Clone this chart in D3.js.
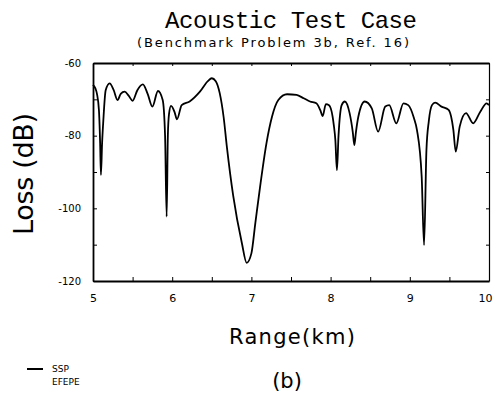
<!DOCTYPE html>
<html>
<head>
<meta charset="utf-8">
<script src="https://cdn.jsdelivr.net/npm/d3@7"></script>
<style>
  body { margin: 0; background: #fff; }
  svg { display: block; }
  .axis path.domain { stroke: #000; stroke-width: 1.8; }
  .axis line { stroke: #000; stroke-width: 1; }
  .axis text { font-family: 'DejaVu Sans', sans-serif; font-size: 11px; font-weight: bold; fill: #000; }
</style>
</head>
<body>
<div id="chart"></div>
<script>
// range (km) and loss (dB)
const rangeKm = [5.00, 5.03, 5.05, 5.075, 5.09, 5.10, 5.115, 5.13, 5.16, 5.21, 5.26, 5.31, 5.35, 5.40, 5.45, 5.50,
  5.56, 5.63, 5.69, 5.75, 5.82, 5.88, 5.91, 5.93, 5.945, 5.96, 5.985, 6.03, 6.06, 6.12, 6.22, 6.35, 6.45, 6.50,
  6.55, 6.60, 6.65, 6.69, 6.77, 6.88, 6.94, 7.00, 7.05, 7.11, 7.19, 7.26, 7.34, 7.45, 7.57, 7.66, 7.74, 7.82,
  7.87, 7.90, 7.94, 7.98, 8.04, 8.06, 8.08, 8.10, 8.14, 8.18, 8.24, 8.28, 8.30, 8.32, 8.35, 8.43, 8.52, 8.60,
  8.69, 8.74, 8.83, 8.92, 8.98, 9.05, 9.09, 9.15, 9.18, 9.21, 9.24, 9.28, 9.32, 9.40, 9.49, 9.55, 9.58, 9.63,
  9.71, 9.80, 9.89, 9.97, 10.0];
const lossDb = [-66.0, -67.0, -68.5, -73, -82, -90.8, -82, -76, -67.5, -65.6, -67.4, -70.2, -68.5, -67.9, -69, -70.4,
  -67.5, -65.9, -68.5, -72, -67.7, -70.2, -80, -102.3, -80, -74, -71.8, -73.5, -75.5, -71.6, -70.6, -67.9, -65, -64.2,
  -65, -68.3, -75, -83, -96.5, -109.6, -115, -112.4, -104, -94, -82.1, -74.8, -70.2, -68.6, -68.8, -69.7, -70.6, -71.1,
  -73, -74.6, -71.3, -71.6, -77, -81.2, -89.5, -80, -71.6, -70.6, -73.8, -79, -82.6, -79, -74.8, -70.6, -72.5, -78.9,
  -72.0, -71.6, -76.6, -71.1, -71.6, -75, -78.4, -91.3, -110.1, -84, -76, -71.6, -70.9, -72, -72.9, -78.4, -84.4, -77.5,
  -73.8, -76.6, -73.4, -71.1, -71.6];

const xTicks = [5, 6, 7, 8, 9, 10];
const yTicks = [-120, -100, -80, -60];
const legendLabels = ['SSP', 'EFEPE'];

const width = 494, height = 396;
const margin = { left: 93, right: 5, top: 63, bottom: 115 };

const svg = d3.select('#chart').append('svg')
  .attr('width', width)
  .attr('height', height);

const x = d3.scaleLinear().domain([5, 10]).range([margin.left, width - margin.right]);
const y = d3.scaleLinear().domain([-120, -60]).range([height - margin.bottom, margin.top]);

const minorX = d3.range(5, 10.01, 0.5);
const minorY = d3.range(-120, -59, 10);

// frame: all four sides with small inward ticks
svg.append('g').attr('class', 'axis')
  .attr('transform', 'translate(0,' + y(-120) + ')')
  .call(d3.axisBottom(x).tickValues(minorX).tickSizeInner(-4).tickSizeOuter(0).tickFormat(''));
svg.append('g').attr('class', 'axis')
  .attr('transform', 'translate(0,' + y(-120) + ')')
  .call(d3.axisBottom(x).tickValues(xTicks).tickSize(0).tickPadding(13).tickFormat(d3.format('d')))
  .call(g => g.select('.domain').remove())
  .call(g => g.selectAll('.tick text').style('font-weight', 'normal').style('font-size', '11px')
    .attr('dx', d => d === 10 ? -4 : 0));
svg.append('g').attr('class', 'axis')
  .attr('transform', 'translate(0,' + y(-60) + ')')
  .call(d3.axisTop(x).tickValues(minorX).tickSizeInner(-3).tickSizeOuter(0).tickFormat(''));
svg.append('g').attr('class', 'axis')
  .attr('transform', 'translate(' + x(5) + ',0)')
  .call(d3.axisLeft(y).tickValues(minorY).tickSizeInner(-4).tickSizeOuter(0).tickFormat(''));
svg.append('g').attr('class', 'axis')
  .attr('transform', 'translate(' + x(5) + ',0)')
  .call(d3.axisLeft(y).tickValues(yTicks).tickSize(0).tickPadding(12).tickFormat(d => '-' + Math.abs(d)))
  .call(g => g.select('.domain').remove())
  .call(g => g.selectAll('.tick text').style('font-weight', 'normal').style('font-size', '10px'));
svg.append('g').attr('class', 'axis')
  .attr('transform', 'translate(' + x(10) + ',0)')
  .call(d3.axisRight(y).tickValues(minorY).tickSizeInner(-3).tickSizeOuter(0).tickFormat(''))
  .call(g => g.select('.domain').style('stroke-width', 1.2));

// the curve
const line = d3.line()
  .x(d => x(d[0]))
  .y(d => y(d[1]))
  .curve(d3.curveMonotoneX);

svg.append('path')
  .datum(d3.zip(rangeKm, lossDb))
  .attr('d', line)
  .attr('fill', 'none')
  .attr('stroke', '#000')
  .attr('stroke-width', 1.8)
  .attr('stroke-linejoin', 'round');

// titles
svg.append('text')
  .attr('x', 291).attr('y', 28)
  .attr('text-anchor', 'middle')
  .style('font-family', "'Liberation Mono', 'DejaVu Sans Mono', monospace")
  .style('font-size', '24px')
  .attr('textLength', 252)
  .text('Acoustic Test Case');

svg.append('text')
  .attr('x', 273).attr('y', 47)
  .attr('text-anchor', 'middle')
  .style('font-family', "'DejaVu Sans', sans-serif")
  .style('font-size', '13px')
  .attr('textLength', 272)
  .text('(Benchmark Problem 3b, Ref. 16)');

svg.append('text')
  .attr('transform', 'translate(33,174) rotate(-90)')
  .attr('text-anchor', 'middle')
  .style('font-family', "'DejaVu Sans', sans-serif")
  .style('font-size', '27px')
  .attr('textLength', 122)
  .text('Loss (dB)');

svg.append('text')
  .attr('x', 292).attr('y', 344)
  .attr('text-anchor', 'middle')
  .style('font-family', "'DejaVu Sans', sans-serif")
  .style('font-size', '21px')
  .attr('textLength', 126)
  .text('Range(km)');

svg.append('text')
  .attr('x', 287).attr('y', 388)
  .attr('text-anchor', 'middle')
  .style('font-family', "'DejaVu Sans', sans-serif")
  .style('font-size', '21px')
  .text('(b)');

// legend
svg.append('line')
  .attr('x1', 27).attr('x2', 43)
  .attr('y1', 369).attr('y2', 369)
  .attr('stroke', '#000').attr('stroke-width', 2);

svg.selectAll('.legend-label')
  .data(legendLabels)
  .enter()
  .append('text')
  .attr('class', 'legend-label')
  .attr('x', 52)
  .attr('y', (d, i) => 372 + 13 * i)
  .style('font-family', "'DejaVu Sans', sans-serif")
  .style('font-size', '9px')
  .text(d => d);
</script>
</body>
</html>
